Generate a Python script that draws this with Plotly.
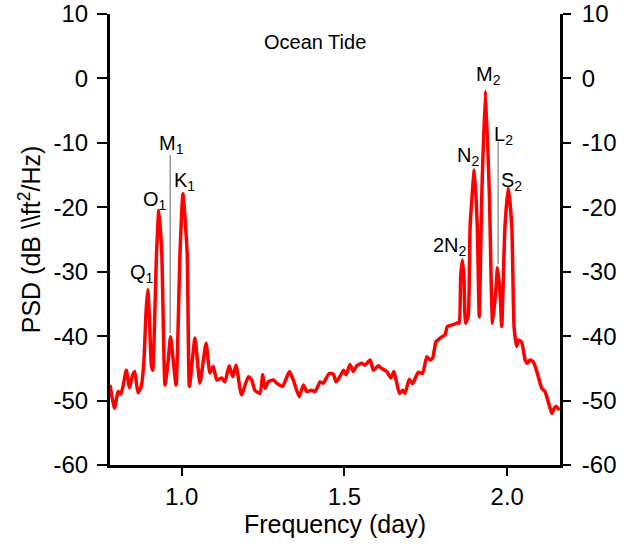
import plotly.graph_objects as go

# Frequency (cycles/day) and PSD (dB)
freq = [0.780, 0.794, 0.805, 0.813, 0.820, 0.830, 0.840, 0.848, 0.856, 0.866,
        0.876, 0.884, 0.891, 0.896, 0.901, 0.907, 0.911, 0.923, 0.930, 0.939,
        0.949, 0.959, 0.966, 0.974, 0.983, 0.995, 1.004, 1.017, 1.024, 1.041,
        1.056, 1.075, 1.087, 1.097, 1.108, 1.123, 1.133, 1.146, 1.157, 1.167,
        1.184, 1.205, 1.215, 1.225, 1.241, 1.249, 1.256, 1.266, 1.282, 1.292,
        1.310, 1.331, 1.343, 1.361, 1.374, 1.384, 1.399, 1.410, 1.425, 1.435,
        1.453, 1.466, 1.474, 1.486, 1.497, 1.505, 1.517, 1.527, 1.538, 1.553,
        1.563, 1.579, 1.589, 1.604, 1.614, 1.630, 1.643, 1.652, 1.669, 1.679,
        1.686, 1.699, 1.709, 1.727, 1.740, 1.753, 1.763, 1.771, 1.781, 1.794,
        1.809, 1.816, 1.829, 1.840, 1.850, 1.853, 1.857, 1.862, 1.867, 1.872,
        1.880, 1.886, 1.899, 1.908, 1.914, 1.922, 1.933, 1.945, 1.955, 1.966,
        1.970, 1.978, 1.983, 1.993, 2.003, 2.014, 2.021, 2.029, 2.034, 2.044,
        2.055, 2.062, 2.070, 2.080, 2.091, 2.106, 2.116, 2.126, 2.137, 2.144,
        2.151, 2.160]
psd = [-47.6, -51.2, -48.6, -49.0, -47.8, -45.3, -48.0, -46.3, -45.5, -48.8,
       -47.8, -44.0, -36.0, -32.8, -37.0, -44.5, -45.3, -27.1, -20.5, -27.1,
       -47.6, -43.7, -40.1, -43.7, -47.6, -27.1, -17.9, -27.1, -47.8, -40.3,
       -47.3, -41.1, -45.7, -44.7, -46.8, -46.5, -47.1, -44.6, -46.3, -44.5,
       -49.1, -46.3, -46.8, -48.4, -48.9, -46.0, -48.1, -47.1, -46.8, -47.3,
       -47.8, -45.5, -46.8, -49.4, -47.6, -48.6, -48.4, -48.6, -47.1, -47.3,
       -45.8, -45.9, -47.1, -46.3, -45.3, -46.0, -44.4, -45.5, -44.6, -44.2,
       -44.5, -43.7, -45.3, -44.6, -45.0, -45.5, -46.5, -45.5, -48.9, -48.4,
       -48.9, -46.7, -47.4, -45.6, -45.8, -43.2, -43.7, -43.4, -40.9, -40.3,
       -39.8, -38.5, -38.3, -38.1, -37.9, -38.0, -30.8, -28.2, -30.8, -38.0,
       -36.9, -23.0, -14.2, -23.0, -37.0, -17.8, -1.9, -17.8, -38.0, -32.3,
       -29.4, -33.4, -38.5, -23.0, -17.0, -23.0, -38.6, -41.6, -40.6, -40.9,
       -43.7, -44.2, -43.7, -44.0, -45.5, -48.1, -48.6, -50.2, -52.0, -51.2,
       -50.9, -51.5]

# Tidal constituent labels and their positions
labels = ["Q<sub>1</sub>", "O<sub>1</sub>", "M<sub>1</sub>", "K<sub>1</sub>",
          "2N<sub>2</sub>", "N<sub>2</sub>", "M<sub>2</sub>", "L<sub>2</sub>", "S<sub>2</sub>"]
label_x = [0.877, 0.918, 0.969, 1.010, 1.824, 1.880, 1.942, 1.988, 2.014]
label_y = [-30.2, -18.9, -10.3, -16.0, -26.1, -12.1, 0.5, -8.8, -16.0]

# Vertical marker lines for the weak constituents (M1, L2)
marker_x = [0.965, 1.972]
marker_top = [-11.9, -9.8]
marker_bottom = [-39.5, -28.8]

xtick_vals = [1.0, 1.5, 2.0]
xtick_text = ["1.0", "1.5", "2.0"]
ytick_vals = [10, 0, -10, -20, -30, -40, -50, -60]
ytick_text = ["10", "0", "-10", "-20", "-30", "-40", "-50", "-60"]

FONT = "Liberation Sans, Arial, sans-serif"

fig = go.Figure()

mx, my = [], []
for x, t, b in zip(marker_x, marker_top, marker_bottom):
    mx += [x, x, None]
    my += [t, b, None]
fig.add_trace(go.Scatter(x=mx, y=my, mode="lines", line=dict(color="#999999", width=1.5),
                         showlegend=False, hoverinfo="skip"))

fig.add_trace(go.Scatter(x=freq, y=psd, mode="lines",
                         line=dict(color="#FF0000", width=3.5, shape="spline", smoothing=0.5),
                         showlegend=False))
# invisible trace to activate right axis
fig.add_trace(go.Scatter(x=freq, y=psd, mode="lines", yaxis="y2",
                         line=dict(color="rgba(0,0,0,0)", width=0),
                         showlegend=False, hoverinfo="skip"))

for lab, x, y in zip(labels, label_x, label_y):
    fig.add_annotation(x=x, y=y, text=lab, showarrow=False,
                       font=dict(family=FONT, size=20, color="black"),
                       xanchor="center", yanchor="middle")

fig.add_annotation(x=1.41, y=5.65, text="Ocean Tide", showarrow=False,
                   font=dict(family=FONT, size=20, color="black"),
                   xanchor="center", yanchor="middle")

axis_common = dict(showgrid=False, zeroline=False, showline=True, linecolor="black",
                   linewidth=3, ticks="outside", tickcolor="black", tickwidth=2,
                   automargin=False,
                   tickfont=dict(family=FONT, size=24, color="black"))

fig.update_layout(
    width=629, height=546,
    margin=dict(l=110, r=69, t=14, b=81),
    paper_bgcolor="white", plot_bgcolor="white",
    xaxis=dict(range=[0.78, 2.162], tickvals=xtick_vals, ticktext=xtick_text,
               ticklen=8, title=dict(text="Frequency (day)", standoff=4,
                                     font=dict(family=FONT, size=25, color="black")),
               **axis_common),
    yaxis=dict(range=[-60, 10], tickvals=ytick_vals, ticktext=ytick_text, ticklen=10,
               ticklabelstandoff=4,
               title=dict(text="PSD (dB \\\\ft<sup>2</sup>/Hz)", standoff=6,
                          font=dict(family=FONT, size=25, color="black")),
               **axis_common),
    yaxis2=dict(range=[-60, 10], tickvals=ytick_vals, ticktext=ytick_text, ticklen=8,
                ticklabelstandoff=6, overlaying="y", side="right", anchor="x",
                **axis_common),
)

fig.write_html("out.html", config={"displayModeBar": False},
               post_script="document.body.style.margin='0';")
